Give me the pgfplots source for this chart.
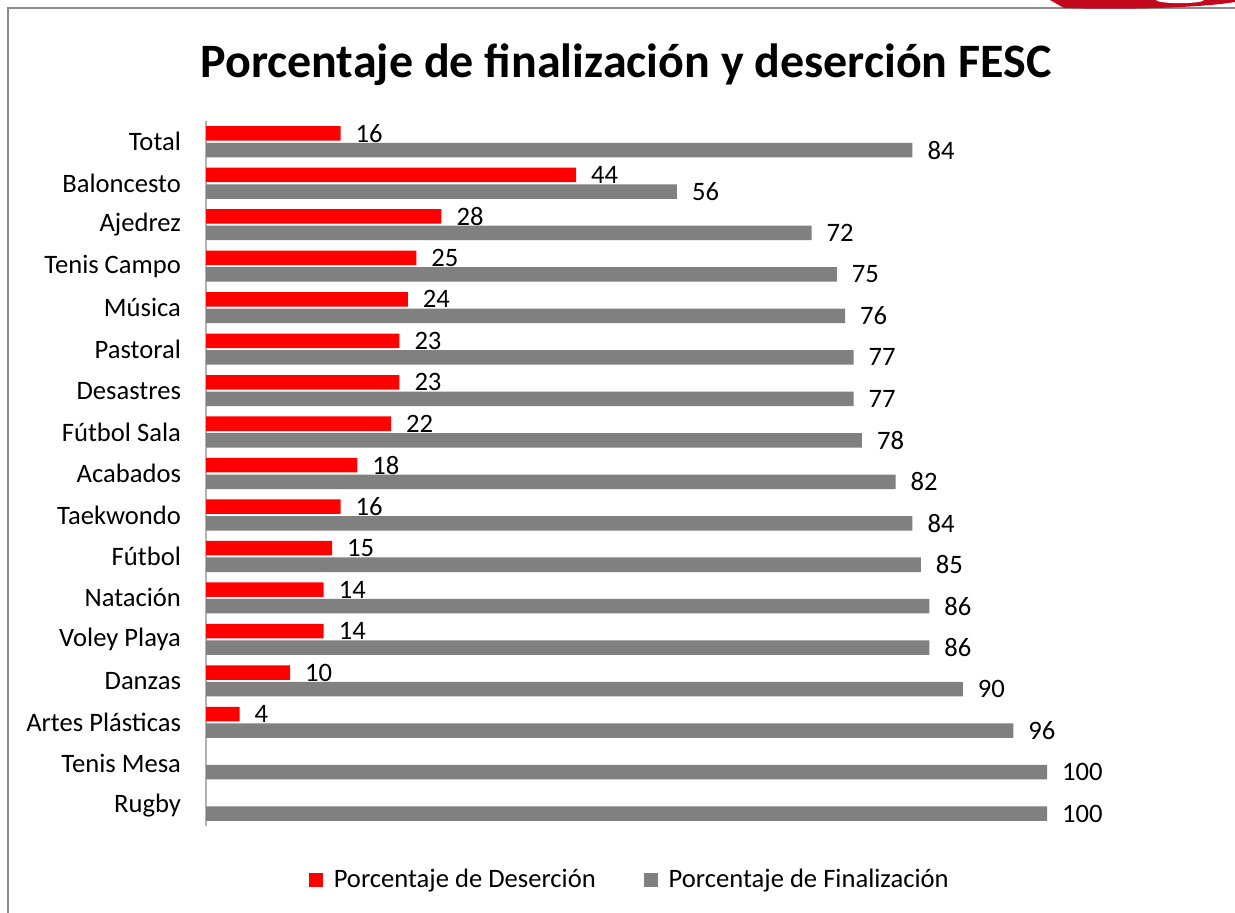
\documentclass[border=0pt]{standalone}
\usepackage{pgfplots}
\pgfplotsset{compat=1.18}
\usepackage{pgfplotstable}
\usepackage{fontspec}
\setmainfont{Carlito}
\definecolor{desred}{HTML}{FF0000}
\definecolor{fingray}{HTML}{808080}
\definecolor{framegray}{HTML}{8C8C8C}
\definecolor{logored}{HTML}{C3081E}

\pgfplotstableread{
y fin
0 84
1 56
2 72
3 75
4 76
5 77
6 77
7 78
8 82
9 84
10 85
11 86
12 86
13 90
14 96
15 100
16 100
}\fin
\pgfplotstableread{
y des
0 16
1 44
2 28
3 25
4 24
5 23
6 23
7 22
8 18
9 16
10 15
11 14
12 14
13 10
14 4
}\des

\begin{document}
\begin{tikzpicture}
\path[use as bounding box] (0,0) rectangle (617.5pt,-456.5pt);
\draw[framegray, line width=0.6pt] (4pt,-456.5pt) -- (4pt,-4pt) -- (617.5pt,-4pt);
\fill[logored] (525pt,0pt) -- (617.5pt,0pt) -- (617.5pt,-1pt) .. controls (600pt,-4pt) and (560pt,-5pt) .. (532pt,-4pt) -- cycle;
\fill[white] (590pt,0pt) ellipse (12pt and 1.6pt);
\node[anchor=base, font=\bfseries\fontsize{24}{29}\selectfont] at (313pt,-39pt) {Porcentaje de finalización y deserción FESC};
\begin{axis}[
  at={(103pt,-413pt)}, anchor=south west,
  scale only axis, width=420.5pt, height=352.5pt,
  xmin=0, xmax=100, ymin=-0.5, ymax=16.5, y dir=reverse,
  axis x line=none, axis y line=left,
  y axis line style={-, draw=gray!60, line width=1pt},
  xbar, bar width=0.35,
  ytick={0,...,16},
  yticklabels={Total,Baloncesto,Ajedrez,Tenis Campo,Música,Pastoral,Desastres,Fútbol Sala,Acabados,Taekwondo,Fútbol,Natación,Voley Playa,Danzas,Artes Plásticas,Tenis Mesa,Rugby},
  major tick length=0pt,
  yticklabel style={font=\fontsize{13.3}{16}\selectfont, xshift=-9pt},
  /pgf/number format/assume math mode=true,
  nodes near coords,
  every node near coord/.append style={font=\fontsize{13.3}{16}\selectfont, xshift=4pt, text=black},
  legend columns=2,
  legend style={at={(0.505,-0.0766)}, anchor=center, draw=none, font=\fontsize{13.3}{16}\selectfont,
    /tikz/every even column/.append style={column sep=22pt}},
  legend image code/.code={\fill[#1] (0pt,-3.5pt) rectangle (7pt,3.5pt); \path (10.5pt,0pt);},
]
\addplot[fill=desred, draw=none, bar shift=-0.2] table[x=des, y=y] {\des};
\addlegendentry{Porcentaje de Deserción}
\addplot[fill=fingray, draw=none, bar shift=0.2] table[x=fin, y=y] {\fin};
\addlegendentry{Porcentaje de Finalización}
\end{axis}
\end{tikzpicture}
\end{document}
